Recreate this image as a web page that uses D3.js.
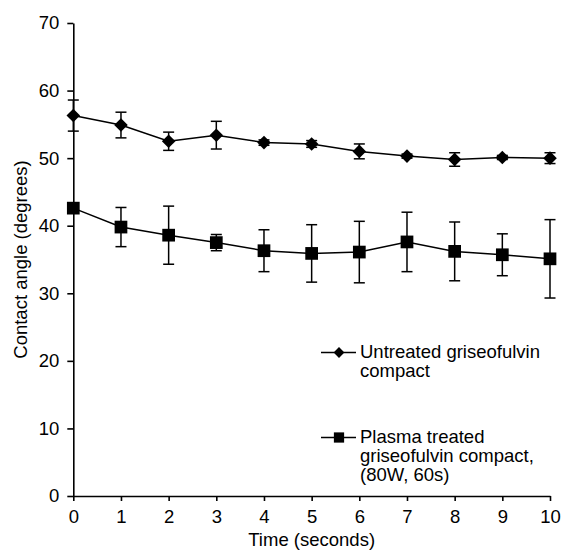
<!DOCTYPE html>
<html>
<head>
<meta charset="utf-8">
<script src="https://cdn.jsdelivr.net/npm/d3@7"></script>
<style>
  body { margin: 0; background: #fff; }
  svg text { font-family: "Liberation Sans", Arial, sans-serif; fill: #000; }
</style>
</head>
<body>
<svg id="chart" width="567" height="550"></svg>
<script>
// time points (seconds)
const times = [0, 1, 2, 3, 4, 5, 6, 7, 8, 9, 10];

// untreated griseofulvin compact
const untreatedMean = [56.3, 54.9, 52.5, 53.4, 52.3, 52.1, 51.0, 50.3, 49.8, 50.1, 50.0];
const untreatedErr  = [2.3, 1.9, 1.35, 2.05, 0.4, 0.5, 1.1, 0.3, 1.0, 0.3, 0.8];

// plasma treated griseofulvin compact (80W, 60s)
const plasmaMean = [42.6, 39.8, 38.6, 37.5, 36.3, 35.9, 36.1, 37.6, 36.2, 35.7, 35.1];
const plasmaErr  = [0.5, 2.9, 4.3, 1.2, 3.1, 4.25, 4.55, 4.4, 4.35, 3.1, 5.8];

const xTicks = [0, 1, 2, 3, 4, 5, 6, 7, 8, 9, 10];
const yTicks = [0, 10, 20, 30, 40, 50, 60, 70];

const fontSize = '18.5px';

const svg = d3.select('#chart');

let margin = {left: 73.3, right: 17, top: 23, bottom: 54};
let width = 567 - margin.left - margin.right;
let height = 550 - margin.top - margin.bottom;

let g = svg.append('g')
    .attr('transform', 'translate(' + margin.left + ',' + margin.top + ')');

let x = d3.scaleLinear().domain([0, 10]).range([0, width]);
let y = d3.scaleLinear().domain([0, 70]).range([height, 0]);

// axes
let xAxis = g.append('g')
    .attr('transform', 'translate(0,' + height + ')')
    .call(d3.axisBottom(x).tickValues(xTicks).tickSize(5).tickSizeOuter(0).tickPadding(9));

let yAxis = g.append('g')
    .call(d3.axisLeft(y).tickValues(yTicks).tickSize(6).tickSizeOuter(0).tickPadding(8));

[xAxis, yAxis].forEach((a) => {
    a.selectAll('path, line').attr('stroke', '#000').attr('stroke-width', 1.6);
    a.selectAll('text').style('font-size', fontSize).style('font-family', '"Liberation Sans", Arial, sans-serif');
});

// axis titles
svg.append('text')
    .attr('x', margin.left + width / 2)
    .attr('y', 546)
    .attr('text-anchor', 'middle')
    .style('font-size', fontSize)
    .text('Time (seconds)');

svg.append('text')
    .attr('transform', 'translate(27,' + (margin.top + height / 2) + ') rotate(-90)')
    .attr('text-anchor', 'middle')
    .style('font-size', fontSize)
    .text('Contact angle (degrees)');

// series drawing (diamond = square turned 45 degrees)
let series = [
    {mean: untreatedMean, err: untreatedErr, shape: d3.symbolSquare, size: 92, rot: 45},
    {mean: plasmaMean, err: plasmaErr, shape: d3.symbolSquare, size: 162, rot: 0}
];

let line = d3.line()
    .x((d) => x(d[0]))
    .y((d) => y(d[1]));

series.forEach((s) => {
    let data = times.map((t, i) => [t, s.mean[i], s.err[i]]);

    // error bars
    let eb = g.append('g');
    eb.selectAll('.vline')
        .data(data)
        .enter()
        .append('line')
        .attr('x1', (d) => x(d[0]))
        .attr('x2', (d) => x(d[0]))
        .attr('y1', (d) => y(d[1] + d[2]))
        .attr('y2', (d) => y(d[1] - d[2]))
        .attr('stroke', '#000')
        .attr('stroke-width', 1.5);
    [1, -1].forEach((sign) => {
        eb.selectAll('.cap')
            .data(data)
            .enter()
            .append('line')
            .attr('x1', (d) => x(d[0]) - 5.5)
            .attr('x2', (d) => x(d[0]) + 5.5)
            .attr('y1', (d) => y(d[1] + sign * d[2]))
            .attr('y2', (d) => y(d[1] + sign * d[2]))
            .attr('stroke', '#000')
            .attr('stroke-width', 1.5);
    });

    g.append('path')
        .datum(data)
        .attr('d', line)
        .attr('fill', 'none')
        .attr('stroke', '#000')
        .attr('stroke-width', 1.5);

    g.append('g').selectAll('path')
        .data(data)
        .enter()
        .append('path')
        .attr('transform', (d) => 'translate(' + x(d[0]) + ',' + y(d[1]) + ') rotate(' + s.rot + ')')
        .attr('d', d3.symbol().type(s.shape).size(s.size))
        .attr('fill', '#000');
});

// legend
let legend = [
    {shape: d3.symbolSquare, size: 58, rot: 45, y: 352.5, lines: ['Untreated griseofulvin', 'compact']},
    {shape: d3.symbolSquare, size: 105, rot: 0, y: 437.5, lines: ['Plasma treated', 'griseofulvin compact,', '(80W, 60s)']}
];

legend.forEach((l) => {
    let lg = svg.append('g');
    lg.append('line')
        .attr('x1', 321).attr('x2', 356)
        .attr('y1', l.y).attr('y2', l.y)
        .attr('stroke', '#000').attr('stroke-width', 1.5);
    lg.append('path')
        .attr('transform', 'translate(339,' + l.y + ') rotate(' + l.rot + ')')
        .attr('d', d3.symbol().type(l.shape).size(l.size))
        .attr('fill', '#000');
    lg.append('text')
        .attr('x', 360)
        .attr('y', l.y + 5.5)
        .style('font-size', fontSize)
        .selectAll('tspan')
        .data(l.lines)
        .enter()
        .append('tspan')
        .attr('x', 360)
        .attr('dy', (d, i) => i == 0 ? 0 : 19)
        .text((d) => d);
});
</script>
</body>
</html>
